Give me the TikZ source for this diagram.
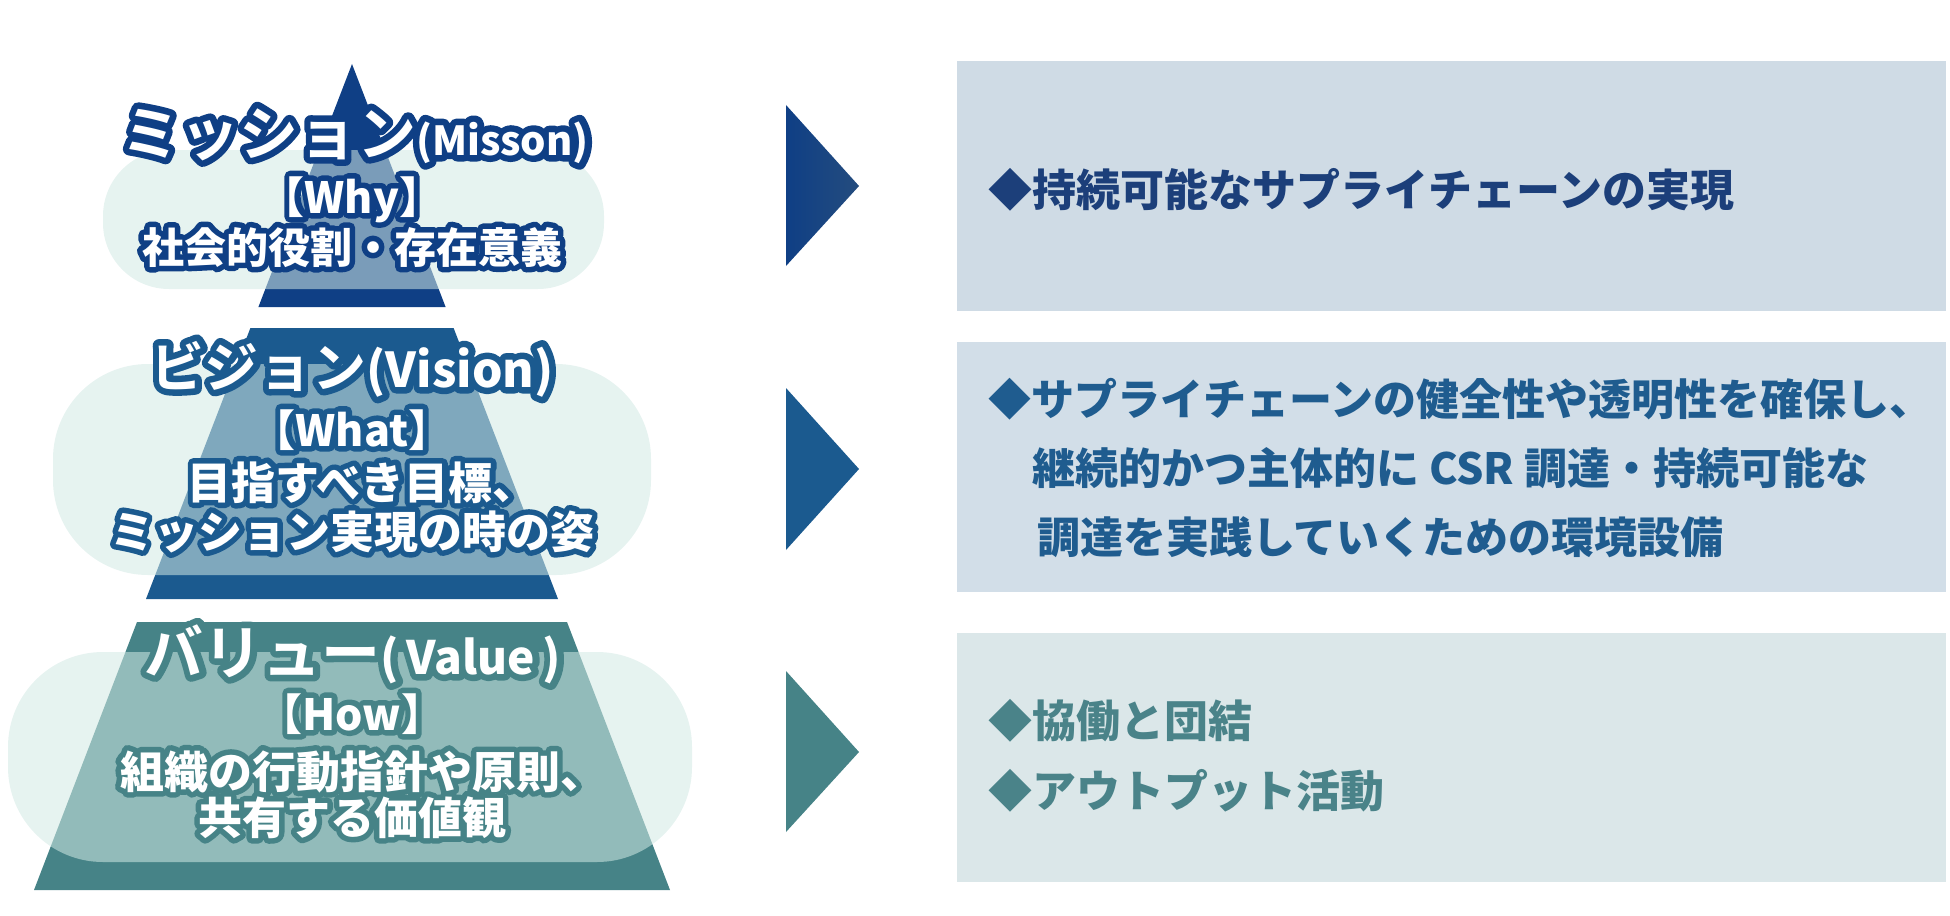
\documentclass[tikz,border=0pt]{standalone}
\usepackage{fontspec}
\setmainfont{Noto Sans CJK JP}
\IfFontExistsTF{Noto Sans CJK JP Black}{\newfontfamily\heavy{Noto Sans CJK JP Black}}{\newcommand\heavy{\bfseries}}
\definecolor{mnavy}{RGB}{15,63,133}
\definecolor{mnavyB}{RGB}{36,76,126}
\definecolor{vblue}{RGB}{27,90,143}
\definecolor{vteal}{RGB}{70,131,135}
\definecolor{pale}{RGB}{210,233,228}
\definecolor{boxA}{RGB}{207,219,229}
\definecolor{boxB}{RGB}{210,222,232}
\definecolor{boxC}{RGB}{219,231,233}
\definecolor{txtA}{RGB}{28,63,122}
\definecolor{txtB}{RGB}{31,92,143}
\definecolor{txtC}{RGB}{74,131,137}
\newcommand\outl[3]{\makebox[0pt][l]{\color{#1}\special{pdf:literal direct 1 Tr #2 w 1 j 1 J}#3\special{pdf:literal direct 0 Tr}}\textcolor{white}{#3}}
\newcommand\fs[1]{\fontsize{#1}{#1}\selectfont}
\tikzset{
  lbl/.style={anchor=base, inner sep=0pt, font=\bfseries},
  rtxt/.style={anchor=base west, inner sep=0pt, font=\bfseries\fs{44}},
  rtxtb/.style={anchor=base west, inner sep=0pt, font=\bfseries\fs{43}},
  overlay/.style={fill=pale, fill opacity=0.55},
}
\begin{document}
\begin{tikzpicture}[x=1pt,y=-1pt]
\useasboundingbox (0,0) rectangle (1950,915);
% pyramid
\fill[mnavy] (352,64) -- (445.6,307) -- (258.4,307) -- cycle;
\fill[vblue] (250.4,328) -- (453.6,328) -- (558,599) -- (146,599) -- cycle;
\fill[vteal] (137,622) -- (567,622) -- (670,890) -- (34,890) -- cycle;
% pale overlays
\fill[overlay, rounded corners=66pt] (103,150) rectangle (604,289);
\fill[overlay, rounded corners=95pt] (53,364) rectangle (651,575);
\fill[overlay, rounded corners=95pt] (8,652) rectangle (692,862);
% left texts
\node[lbl] (mT) at (355,155) {\outl{mnavy}{13}{{\heavy\fs{59}ミッション}{\fs{40}(Misson)}}};
\node[lbl] (mW) at (352,213) {\outl{mnavy}{11}{\fs{43}【Why】}};
\node[lbl] (mL) at (352,263) {\outl{mnavy}{11}{\fs{42}社会的役割・存在意義}};
\node[lbl] (vT) at (352,387) {\outl{vblue}{13}{{\heavy\fs{54}ビジョン}{\fs{48}(Vision)}}};
\node[lbl] (vW) at (352,446) {\outl{vblue}{11}{\fs{43}【What】}};
\node[lbl] (vL1) at (362,499) {\outl{vblue}{11}{\fs{44}目指すべき目標、}};
\node[lbl] (vL2) at (352,548) {\outl{vblue}{11}{\fs{44}ミッション実現の時の姿}};
\node[lbl] (uT) at (353,674) {\outl{vteal}{13}{{\heavy\fs{59}バリュー}{\fs{46}(\,Value\,)}}};
\node[lbl] (uW) at (352,730) {\outl{vteal}{11}{\fs{43}【How】}};
\node[lbl] (uL1) at (362,788) {\outl{vteal}{11}{\fs{44}組織の行動指針や原則、}};
\node[lbl] (uL2) at (352,834) {\outl{vteal}{11}{\fs{44}共有する価値観}};
% chevrons
\shade[left color=mnavy, right color=mnavyB] (786,105) -- (859,186) -- (786,266) -- cycle;
\fill[vblue] (786,388) -- (859,469) -- (786,550) -- cycle;
\fill[vteal] (786,671) -- (859,752) -- (786,832) -- cycle;
% boxes
\fill[boxA] (957,61) rectangle (1946,311);
\fill[boxB] (957,342) rectangle (1946,592);
\fill[boxC] (957,633) rectangle (1946,882);
% right texts
\node[rtxt, text=txtA] (t1) at (988,206) {◆持続可能なサプライチェーンの実現};
\node[rtxtb, text=txtB] (t2a) at (988,415) {◆サプライチェーンの健全性や透明性を確保し、};
\node[rtxtb, text=txtB] (t2b) at (1032,484) {継続的かつ主体的に CSR 調達・持続可能な};
\node[rtxtb, text=txtB] (t2c) at (1037,553) {調達を実践していくための環境設備};
\node[rtxt, text=txtC] (t3a) at (988,737) {◆協働と団結};
\node[rtxt, text=txtC] (t3b) at (988,807) {◆アウトプット活動};
\end{tikzpicture}
\end{document}
